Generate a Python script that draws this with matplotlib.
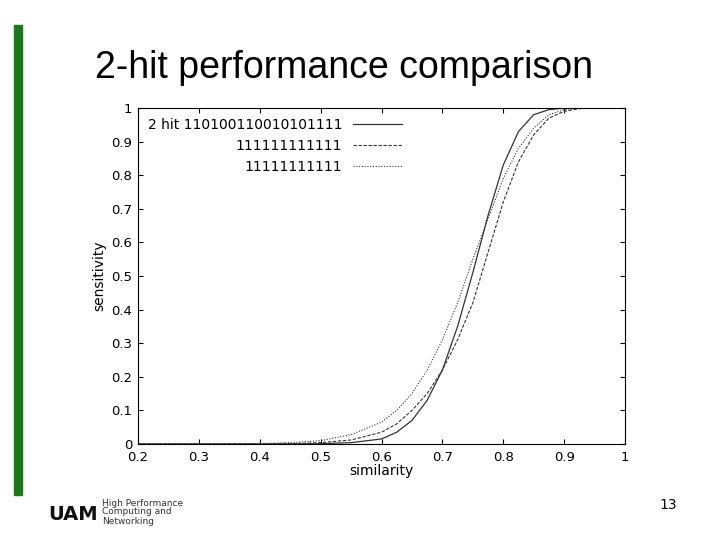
import matplotlib
matplotlib.use("Agg")
import matplotlib.pyplot as plt
from matplotlib.patches import Rectangle

similarity = [0.2, 0.4, 0.45, 0.5, 0.55, 0.6, 0.625, 0.65, 0.675, 0.7, 0.725, 0.75, 0.775, 0.8, 0.825, 0.85, 0.875, 0.9, 0.925, 0.95, 1.0]
hit2 = [0, 0, 0, 0.001, 0.004, 0.015, 0.035, 0.07, 0.13, 0.22, 0.35, 0.51, 0.68, 0.83, 0.93, 0.98, 0.995, 1, 1, 1, 1]
ones12 = [0, 0, 0.001, 0.004, 0.012, 0.035, 0.06, 0.1, 0.15, 0.22, 0.31, 0.42, 0.57, 0.72, 0.84, 0.92, 0.97, 0.99, 0.998, 1, 1]
ones11 = [0, 0.001, 0.004, 0.01, 0.028, 0.065, 0.1, 0.15, 0.22, 0.31, 0.42, 0.55, 0.67, 0.79, 0.88, 0.94, 0.98, 0.995, 1, 1, 1]
labels = ["2 hit 110100110010101111", "111111111111", "11111111111"]

fig = plt.figure(figsize=(7.2, 5.4), dpi=100)
fig.patches.append(Rectangle((14/720, 1-495/540), 8/720, 470/540, color="#1a7a1a", transform=fig.transFigure))
fig.text(95/720, 1-68/540, "2-hit performance comparison", fontsize=27, va="center", family="Liberation Sans")
fig.text(668/720, 1-505/540, "13", fontsize=10, ha="center", va="center")
fig.text(102/720, 1-512/540, "High Performance\nComputing and\nNetworking", fontsize=6.5, va="center", color="#333", linespacing=1.0)
fig.text(48/720, 1-514/540, "UAM", fontsize=14, fontweight="bold", va="center", color="#111")

ax = fig.add_axes([138/720, 1-444/540, 487/720, 336/540])
ax.plot(similarity, hit2, color="#333", lw=0.9, ls="-", label=labels[0])
ax.plot(similarity, ones12, color="#333", lw=0.8, ls=(0, (3, 1.5)), label=labels[1])
ax.plot(similarity, ones11, color="#333", lw=0.8, ls=(0, (1, 1.5)), label=labels[2])
ax.set_xlim(0.2, 1)
ax.set_ylim(0, 1)
ax.set_xticks([0.2, 0.3, 0.4, 0.5, 0.6, 0.7, 0.8, 0.9, 1])
ax.set_xticklabels(["0.2", "0.3", "0.4", "0.5", "0.6", "0.7", "0.8", "0.9", "1"])
ax.set_yticks([i/10 for i in range(11)])
ax.set_yticklabels(["0"] + [f"0.{i}" for i in range(1, 10)] + ["1"])
ax.tick_params(direction="in", labelsize=9.5, top=True, right=True)
ax.tick_params(axis="x", pad=5)
ax.tick_params(axis="y", pad=4)
ax.set_xlabel("similarity", fontsize=10, labelpad=0)
ax.set_ylabel("sensitivity", fontsize=10, labelpad=4)
leg = ax.legend(loc="upper left", frameon=False, fontsize=10, markerfirst=False, handlelength=3.5,
                borderaxespad=0.3, labelspacing=0.5, bbox_to_anchor=(0.0, 1.0))
for t in leg.get_texts():
    t.set_ha("right")
leg._legend_box.align = "right"
fig.savefig("out.png", dpi=100)
